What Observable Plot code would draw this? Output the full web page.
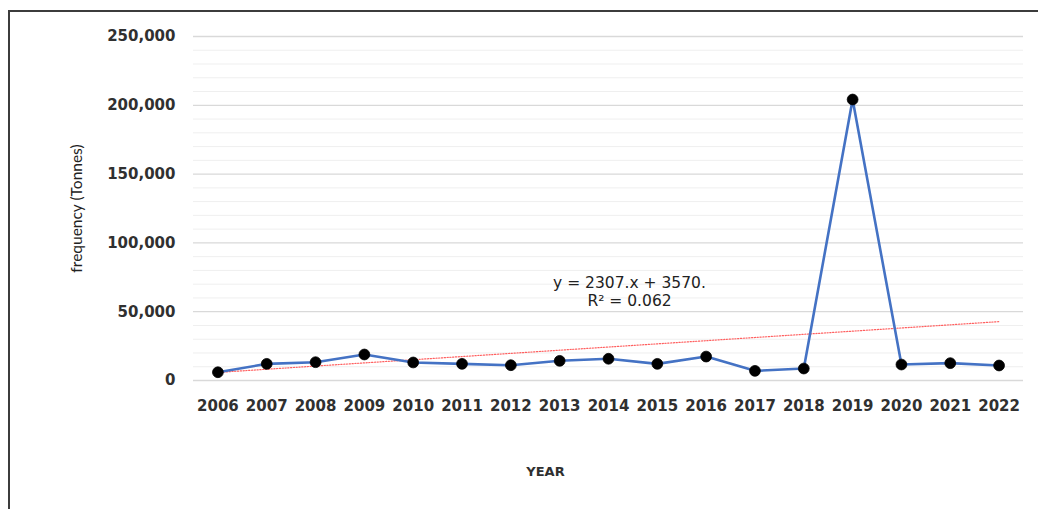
<!DOCTYPE html>
<html><head><meta charset="utf-8">
<script src="https://cdn.jsdelivr.net/npm/d3@7"></script>
<script src="https://cdn.jsdelivr.net/npm/@observablehq/plot@0.6"></script>
<style>
body{margin:0;background:#fff;}
#wrap{position:relative;width:1038px;height:509px;overflow:hidden;background:#fff;}
#chart{position:absolute;left:0;top:0;}
#frame{position:absolute;left:8px;top:10px;width:1100px;height:600px;border-left:2px solid #3c3c3c;border-top:2px solid #3c3c3c;pointer-events:none;}
</style></head><body>
<div id="wrap"><div id="chart"></div><div id="frame"></div></div>
<script>
// Data
const years = ["2006","2007","2008","2009","2010","2011","2012","2013","2014","2015","2016","2017","2018","2019","2020","2021","2022"];
const tonnes = [6000, 12100, 13300, 18900, 13100, 12100, 11100, 14300, 15800, 12100, 17400, 7000, 8700, 204200, 11600, 12600, 10900];
const majorTicks = [0, 50000, 100000, 150000, 200000, 250000];
const minorTicks = [10000, 20000, 30000, 40000, 60000, 70000, 80000, 90000, 110000, 120000, 130000, 140000, 160000, 170000, 180000, 190000, 210000, 220000, 230000, 240000];
const trendSlope = 2307;
const trendIntercept = 3570;
const equationText = ["y = 2307.x + 3570.\nR\u00B2 = 0.062"];
const yLabel = ["frequency (Tonnes)"];
const xLabel = ["YEAR"];

const data = years.map((year, i) => ({year, value: tonnes[i], trend: trendSlope * (i + 1) + trendIntercept}));

const tickFont = {fontFamily: "DejaVu Sans", fontWeight: "bold", fontSize: 15, fill: "#303030"};

const chart = Plot.plot({
  width: 1038,
  height: 509,
  marginLeft: 193,
  marginRight: 15,
  marginTop: 36,
  marginBottom: 129,
  style: {background: "transparent", overflow: "visible"},
  x: {type: "point", domain: years, padding: 0.5, round: false},
  y: {domain: [0, 250000]},
  marks: [
    Plot.ruleY(minorTicks, {stroke: "#efefef", strokeWidth: 1}),
    Plot.ruleY(majorTicks, {stroke: "#d9d9d9", strokeWidth: 1.3}),
    Plot.axisY({ticks: majorTicks, tickFormat: d3.format(","), tickSize: 0, tickPadding: 18, label: null, ...tickFont}),
    Plot.axisX({tickSize: 0, tickPadding: 20, label: null, ...tickFont}),
    Plot.line(data, {x: "year", y: "trend", stroke: "#ff6060", strokeWidth: 1.2, strokeDasharray: "1.2,1.6"}),
    Plot.line(data, {x: "year", y: "value", stroke: "#4472c4", strokeWidth: 2.6}),
    Plot.dot(data, {x: "year", y: "value", r: 5.4, fill: "#000", stroke: "#000", strokeWidth: 0.8}),
    Plot.text(equationText, {frameAnchor: "top", dx: 21, dy: 239, lineAnchor: "top", lineHeight: 1.15, fontSize: 15.5, fontFamily: "DejaVu Sans", fill: "#222"}),
    Plot.text(yLabel, {frameAnchor: "left", textAnchor: "middle", dx: -116, rotate: -90, fontSize: 15.5, fontFamily: "Lato", fill: "#222"}),
    Plot.text(xLabel, {frameAnchor: "bottom", dx: -63, dy: 95, fontSize: 13, fontFamily: "DejaVu Sans", fontWeight: "bold", fill: "#303030"})
  ]
});
document.getElementById("chart").appendChild(chart);
</script>
</body></html>
